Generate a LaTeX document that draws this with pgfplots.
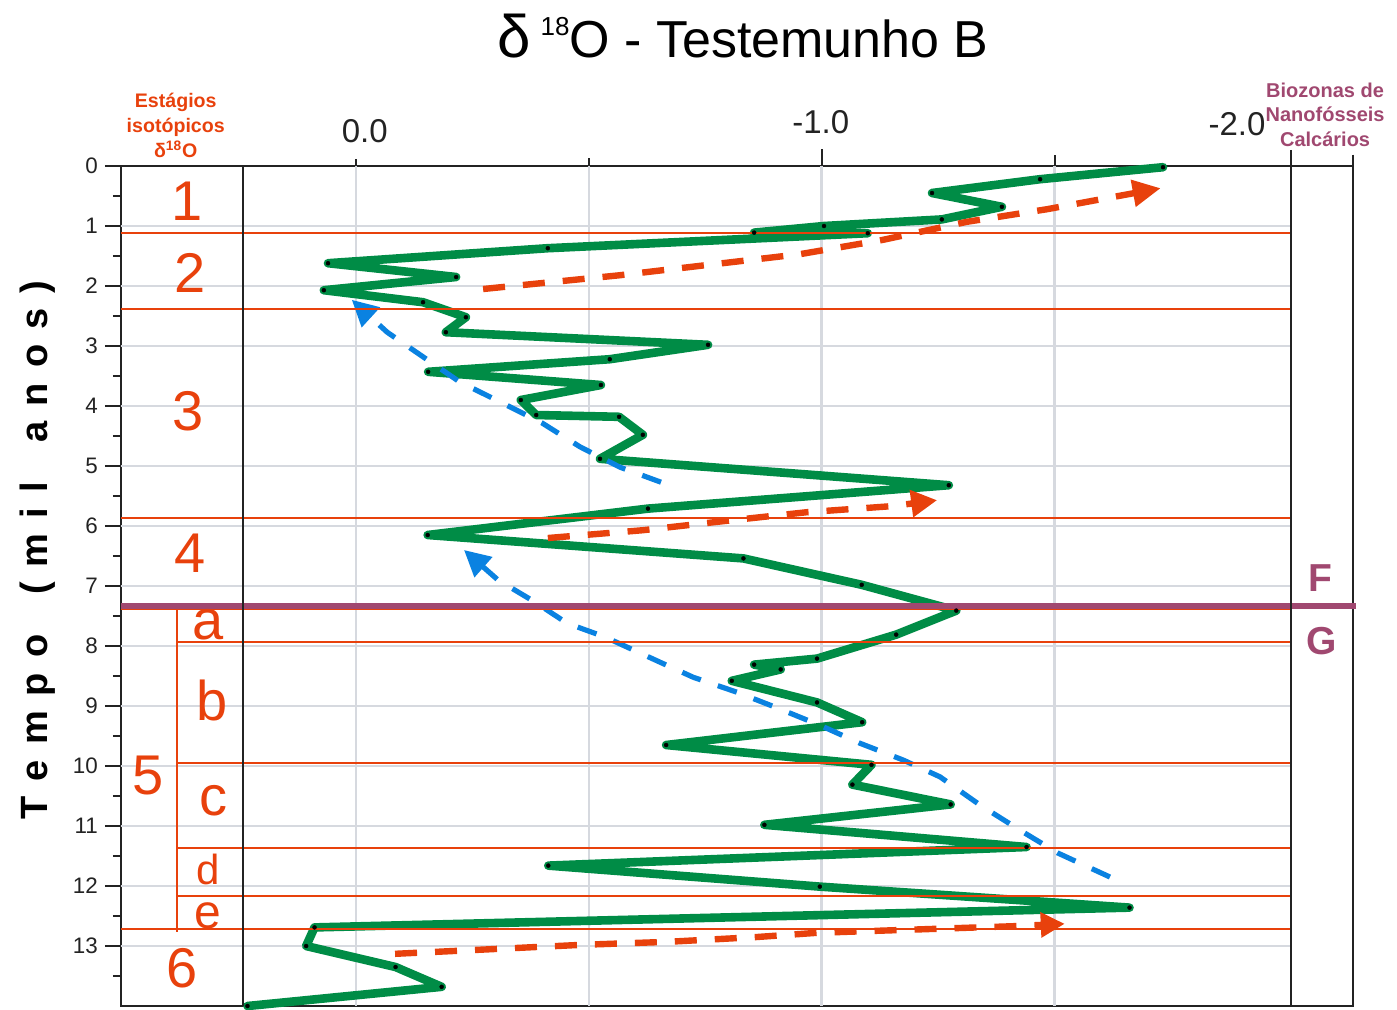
\documentclass[border=0pt]{standalone}
\usepackage{fontspec}
\setmainfont{Liberation Sans}
\usepackage{pgfplots}
\pgfplotsset{compat=1.18}
\usetikzlibrary{arrows.meta}
\definecolor{stg}{RGB}{232,65,12}
\definecolor{grn}{RGB}{0,140,70}
\definecolor{blu}{RGB}{10,130,225}
\definecolor{pur}{RGB}{160,72,112}
\definecolor{grd}{RGB}{214,217,223}
\definecolor{ink}{RGB}{35,35,35}
\newcommand{\lsp}{\hspace{7.5pt}}
\newcommand{\wsp}{\hspace{20pt}}
\begin{document}
\begin{tikzpicture}
\begin{axis}[
  name=ax,
  scale only axis, width=616pt, height=420pt,
  x dir=reverse, y dir=reverse,
  xmin=-2.1409, xmax=0.5046, ymin=0, ymax=14,
  clip=false,
  axis line style={ink, line width=1pt},
  xtick=\empty,
  ytick={0,...,13}, minor ytick={0.5,1.5,...,13.5},
  tick align=outside,
  major tick length=8pt, minor tick length=4pt,
  tick style={ink, line width=1pt},
  ytick pos=left,
  yticklabel pos=left,
  /pgf/number format/assume math mode=true,
  yticklabel style={font=\fontsize{11.2}{13}\selectfont, text=ink},
]
% grid
\pgfplotsinvokeforeach{1,...,13}{\draw[grd, line width=1.2pt] (axis cs:0.5046,#1) -- (axis cs:-2.0077,#1);}
\pgfplotsinvokeforeach{0,-0.5,-1,-1.5}{\draw[grd, line width=1.2pt] (axis cs:#1,0) -- (axis cs:#1,14);}

% green series
\addplot[grn, line width=4.3pt, line join=round, line cap=round, mark=*, mark size=1pt,
  mark options={solid, draw=black, fill=black, line width=0.2pt}] coordinates {
(-1.733,0.02) (-1.469,0.22) (-1.237,0.45) (-1.387,0.68) (-1.258,0.89)
(-1.005,1.00) (-0.855,1.11) (-1.099,1.12) (-0.412,1.37) (0.060,1.62)
(-0.215,1.85) (0.069,2.07) (-0.144,2.27) (-0.236,2.52) (-0.193,2.77)
(-0.756,2.98) (-0.545,3.22) (-0.155,3.43) (-0.526,3.65) (-0.354,3.90)
(-0.387,4.15) (-0.565,4.18) (-0.616,4.48) (-0.524,4.88) (-1.273,5.32)
(-0.627,5.71) (-0.154,6.15) (-0.832,6.54) (-1.086,6.98) (-1.289,7.41)
(-1.160,7.81) (-0.990,8.21) (-0.855,8.31) (-0.912,8.39) (-0.807,8.58)
(-0.990,8.94) (-1.087,9.27) (-0.666,9.65) (-1.107,9.98) (-1.066,10.31)
(-1.277,10.64) (-0.877,10.98) (-1.440,11.35) (-0.413,11.66) (-0.996,12.01)
(-1.661,12.36) (0.089,12.69) (0.107,13.00) (-0.085,13.35) (-0.184,13.68)
(0.233,14.0)
};

% dashed trend arrows
\addplot[stg, line width=3.2pt, dash pattern=on 11pt off 9pt, line join=round,
  -{Triangle[length=14pt,width=13pt]}] coordinates {
(-0.273,2.05) (-0.567,1.82) (-0.754,1.65) (-0.953,1.47) (-1.132,1.23)
(-1.312,0.93) (-1.484,0.72) (-1.728,0.37)};
\addplot[blu, line width=2.6pt, dash pattern=on 10pt off 9pt, line join=round,
  -{Triangle[length=13pt,width=13pt]}] coordinates {
(-0.655,5.27) (-0.567,5.02) (-0.481,4.68) (-0.399,4.28) (-0.309,3.93)
(-0.223,3.60) (-0.144,3.18) (-0.067,2.77) (0.009,2.23)};
\addplot[stg, line width=3.2pt, dash pattern=on 11pt off 9pt, line join=round,
  -{Triangle[length=13pt,width=13pt]}] coordinates {
(-0.412,6.20) (-0.616,6.07) (-0.788,5.92) (-0.968,5.77) (-1.149,5.67) (-1.248,5.57)};
\addplot[blu, line width=2.6pt, dash pattern=on 10pt off 9pt, line join=round,
  -{Triangle[length=13pt,width=13pt]}] coordinates {
(-1.619,11.85) (-1.507,11.45) (-1.426,11.07) (-1.340,10.65) (-1.254,10.18)
(-1.175,9.90) (-1.082,9.62) (-0.996,9.32) (-0.904,9.03) (-0.818,8.77)
(-0.724,8.52) (-0.653,8.27) (-0.535,7.85) (-0.453,7.62) (-0.387,7.28)
(-0.305,6.90) (-0.232,6.40)};
\addplot[stg, line width=3.2pt, dash pattern=on 11pt off 9pt, line join=round,
  -{Triangle[length=12pt,width=12pt]}] coordinates {
(-0.084,13.13) (-0.298,13.05) (-0.485,12.98) (-0.670,12.93) (-0.861,12.85)
(-0.990,12.78) (-1.220,12.72) (-1.411,12.67) (-1.522,12.63)};

% stage boundaries
\pgfplotsinvokeforeach{1.12,2.39,5.87,7.39,12.72}{\draw[stg, line width=1pt] (axis cs:0.5046,#1) -- (axis cs:-2.0077,#1);}
\pgfplotsinvokeforeach{7.93,9.95,11.36,12.16}{\draw[stg, line width=1pt] (axis cs:0.384,#1) -- (axis cs:-2.0077,#1);}
\draw[stg, line width=1pt] (axis cs:0.384,7.39) -- (axis cs:0.384,12.77);
% biozone boundary
\draw[pur, line width=3.2pt] (axis cs:0.5046,7.33) -- (axis cs:-2.147,7.33);

% column separators and top ticks
\draw[ink, line width=1pt] (axis cs:0.2427,0) -- (axis cs:0.2427,14);
\draw[ink, line width=1pt] (axis cs:-2.0077,-0.27) -- (axis cs:-2.0077,14);
\draw[ink, line width=1pt] (axis cs:-2.1409,-0.19) -- (axis cs:-2.1409,0);
\draw[ink, line width=1pt] (axis cs:0,0) -- (axis cs:0,-0.12);
\draw[ink, line width=1pt] (axis cs:-0.5,0) -- (axis cs:-0.5,-0.13);
\draw[ink, line width=1pt] (axis cs:-1,0) -- (axis cs:-1,-0.28);
\draw[ink, line width=1pt] (axis cs:-1.5,0) -- (axis cs:-1.5,-0.18);

% x tick labels
\node[text=ink, font=\fontsize{16.5}{18}\selectfont] at (axis cs:-0.019,-0.58) {0.0};
\node[text=ink, font=\fontsize{16.5}{18}\selectfont] at (axis cs:-0.998,-0.73) {-1.0};
\node[text=ink, font=\fontsize{16.5}{18}\selectfont] at (axis cs:-1.892,-0.70) {-2.0};

% title
\node[text=black] at (axis cs:-0.831,-2.17) {\fontsize{26}{30}\selectfont {\fontsize{30}{30}\selectfont δ}\hspace{5pt}\raisebox{11pt}{\fontsize{13}{15}\selectfont 18}O - Testemunho B};

% headers
\node[align=center, text=stg, font=\bfseries\fontsize{9.8}{12.5}\selectfont] at (axis cs:0.387,-0.68) {Estágios\\isotópicos\\δ\textsuperscript{18}O};
\node[align=center, text=pur, font=\bfseries\fontsize{10}{12.25}\selectfont] at (axis cs:-2.081,-0.858) {Biozonas de\\Nanofósseis\\Calcários};

% stage labels
\begin{scope}[every node/.style={text=stg, font=\fontsize{28}{30}\selectfont}]
\node at (axis cs:0.363,0.58) {1};
\node at (axis cs:0.356,1.78) {2};
\node at (axis cs:0.361,4.08) {3};
\node at (axis cs:0.356,6.45) {4};
\node at (axis cs:0.318,7.65) {a};
\node at (axis cs:0.309,8.90) {b};
\node at (axis cs:0.447,10.15) {5};
\node at (axis cs:0.307,10.57) {c};
\node[inner sep=0pt, font=\fontsize{21}{23}\selectfont] at (axis cs:0.318,11.72) {d};
\node[inner sep=0pt, font=\fontsize{24}{26}\selectfont] at (axis cs:0.318,12.50) {e};
\node at (axis cs:0.374,13.37) {6};
\end{scope}
\node[text=pur, font=\bfseries\fontsize{19.5}{22}\selectfont] at (axis cs:-2.070,6.87) {F};
\node[text=pur, font=\bfseries\fontsize{19.5}{22}\selectfont] at (axis cs:-2.074,7.92) {G};

% y label
\node[rotate=90, text=black, font=\bfseries\fontsize{19}{22}\selectfont] at (axis cs:0.683,6.4)
  {T\lsp e\lsp m\lsp p\lsp o\wsp (\lsp m\lsp i\lsp l\wsp a\lsp n\lsp o\lsp s\lsp )};
\end{axis}
\pgfresetboundingbox
\path ([shift={(-60.5pt,-1.5pt)}]ax.south west) rectangle ([shift={(22pt,83pt)}]ax.north east);
\end{tikzpicture}
\end{document}
